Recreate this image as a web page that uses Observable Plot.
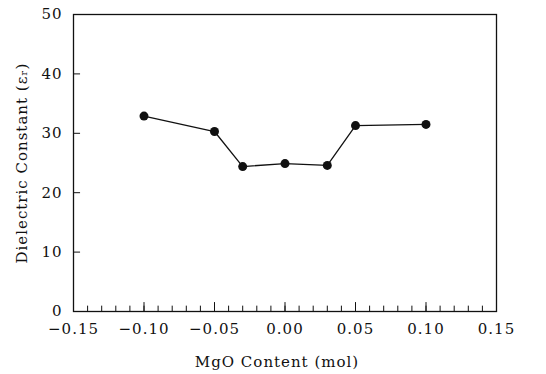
<!DOCTYPE html>
<html>
<head>
<meta charset="utf-8">
<script src="https://cdn.jsdelivr.net/npm/d3@7"></script>
<script src="https://cdn.jsdelivr.net/npm/@observablehq/plot@0.6"></script>
<style>
  html, body { margin: 0; padding: 0; background: #fff; }
  #chart svg { display: block; }
</style>
</head>
<body>
<div id="chart"></div>
<script>
// Data
const mgo = [-0.100, -0.050, -0.030, 0.000, 0.030, 0.050, 0.100];
const dielectric = [32.9, 30.3, 24.4, 24.9, 24.6, 31.3, 31.5];

const xTicks = [-0.15, -0.10, -0.05, 0.00, 0.05, 0.10, 0.15];
const xTickLabels = ["\u22120.15", "\u22120.10", "\u22120.05", "0.00", "0.05", "0.10", "0.15"];
const xMinorTicks = d3.range(-15, 16).map(i => i / 100);
const yTicks = [0, 10, 20, 30, 40, 50];
const xTitle = "MgO Content (mol)";
const yTitle = "Dielectric Constant (\u03b5\u1d63)";

const data = mgo.map((x, i) => ({x, y: dielectric[i]}));

const font = "'DejaVu Serif', 'Liberation Serif', serif";

const chart = Plot.plot({
  width: 546,
  height: 374,
  marginLeft: 73,
  marginRight: 50,
  marginTop: 14,
  marginBottom: 63,
  style: {fontFamily: font, fontSize: "14px", color: "#111", background: "#fff"},
  x: {domain: [-0.15, 0.15]},
  y: {domain: [0, 50]},
  marks: [
    Plot.ruleX(xMinorTicks, {x: d => d, y1: 0, y2: 0.9, stroke: "#111", strokeWidth: 1}),
    Plot.ruleX(xTicks, {x: d => d, y1: 0, y2: 1.5, stroke: "#111", strokeWidth: 1}),
    Plot.ruleY(yTicks, {y: d => d, x1: -0.15, x2: -0.145, stroke: "#111", strokeWidth: 1}),
    Plot.frame({stroke: "#111", strokeWidth: 1.3}),
    Plot.axisX(xTicks, {
      tickSize: 0, tickPadding: 12,
      tickFormat: (d, i) => xTickLabels[i],
      label: null, fontSize: 15
    }),
    Plot.axisY(yTicks, {
      tickSize: 0, tickPadding: 11,
      label: null, fontSize: 15
    }),
    Plot.text([xTitle], {text: d => d, frameAnchor: "bottom", dy: 55, dx: -8, fontSize: 15, fill: "#111"}),
    Plot.text([yTitle], {text: d => d, frameAnchor: "left", textAnchor: "middle", dx: -51, rotate: -90, fontSize: 15, fill: "#111"}),
    Plot.line(data, {x: "x", y: "y", stroke: "#111", strokeWidth: 1.3}),
    Plot.dot(data, {x: "x", y: "y", r: 4.5, fill: "#111", stroke: "none"})
  ]
});
chart.querySelectorAll("text").forEach(t => t.style.letterSpacing = "1px");
document.getElementById("chart").appendChild(chart);
</script>
</body>
</html>
